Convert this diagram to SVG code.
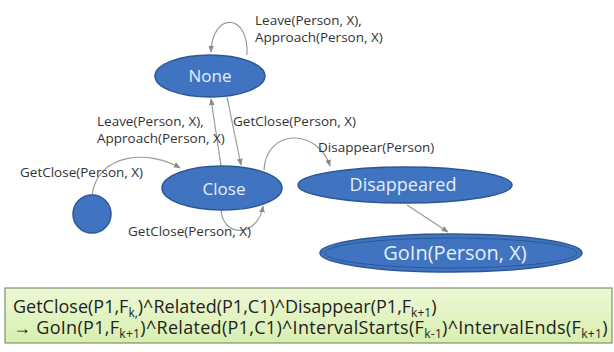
<svg xmlns="http://www.w3.org/2000/svg" width="614" height="352" viewBox="0 0 614 352">
<defs>
<marker id="ah" viewBox="0 0 10 10" refX="9" refY="5" markerWidth="7" markerHeight="7" orient="auto-start-reverse" markerUnits="userSpaceOnUse">
<path d="M0,1 L10,5 L0,9 z" fill="#8a8a8a"/>
</marker>
<linearGradient id="gbox" x1="0" y1="0" x2="0" y2="1">
<stop offset="0" stop-color="#eef8d6"/>
<stop offset="1" stop-color="#d7efae"/>
</linearGradient>
<style>
.node{fill:#4174c0;stroke:#2b5797;stroke-width:1.5}
.nt{font-family:"Open Sans","Liberation Sans",sans-serif;fill:#e4eef9;text-anchor:middle}
.lbl{font-family:"Open Sans","Liberation Sans",sans-serif;font-size:13.5px;fill:#333}
.edge{fill:none;stroke:#9a9a9a;stroke-width:1.2;marker-end:url(#ah)}
.bt{font-family:"Open Sans","Liberation Sans",sans-serif;font-size:18px;fill:#222}
</style>
</defs>
<rect width="614" height="352" fill="#ffffff"/>
<g id="connectors">
<path class="edge" d="M247,55 C249,12 212,12 211,52"/>
<path class="edge" d="M221,166 L211,99"/>
<path class="edge" d="M227,97 L241,165"/>
<path class="edge" d="M92,195 C98,152 150,150 180,168"/>
<path class="edge" d="M221,209 C222,238 258,238 263,206"/>
<path class="edge" d="M264,170 C266,128 318,128 330,166"/>
<path class="edge" d="M407,205 L448,232"/>
</g>
<g id="labels">
<text class="lbl" x="255" y="25">Leave(Person, X),</text>
<text class="lbl" x="255" y="42">Approach(Person, X)</text>
<text class="lbl" x="97" y="126">Leave(Person, X),</text>
<text class="lbl" x="97" y="143">Approach(Person, X)</text>
<text class="lbl" x="233" y="126">GetClose(Person, X)</text>
<text class="lbl" x="20" y="177">GetClose(Person, X)</text>
<text class="lbl" x="128" y="236">GetClose(Person, X)</text>
<text class="lbl" x="318" y="152">Disappear(Person)</text>
</g>
<g id="none">
<ellipse class="node" cx="210" cy="76" rx="55" ry="21"/>
<text class="nt" x="210" y="82" font-size="17">None</text>
</g>
<g id="close">
<ellipse class="node" cx="222" cy="188" rx="60" ry="22"/>
<text class="nt" x="224" y="195" font-size="17">Close</text>
</g>
<g id="start">
<circle class="node" cx="92" cy="214" r="19"/>
</g>
<g id="disappeared">
<ellipse class="node" cx="405" cy="185" rx="107" ry="18"/>
<text class="nt" x="403" y="191" font-size="18">Disappeared</text>
</g>
<g id="goin">
<ellipse class="node" cx="451" cy="253" rx="131" ry="19"/>
<ellipse cx="451" cy="253" rx="126" ry="15" fill="none" stroke="#2b5797" stroke-width="1"/>
<text class="nt" x="455" y="260" font-size="20">GoIn(Person, X)</text>
</g>
<g id="rule">
<rect x="5" y="288" width="607" height="55" fill="url(#gbox)" stroke="#7f8f70" stroke-width="1.2"/>
<text class="bt" x="13" y="313">GetClose(P1,F<tspan font-size="12" dy="4">k,</tspan><tspan dy="-4">)^Related(P1,C1)^Disappear(P1,F</tspan><tspan font-size="12" dy="4">k+1</tspan><tspan dy="-4">)</tspan></text>
<text class="bt" x="13" y="334" letter-spacing="0.3">→ GoIn(P1,F<tspan font-size="12" dy="4">k+1</tspan><tspan dy="-4">)^Related(P1,C1)^IntervalStarts(F</tspan><tspan font-size="12" dy="4">k-1</tspan><tspan dy="-4">)^IntervalEnds(F</tspan><tspan font-size="12" dy="4">k+1</tspan><tspan dy="-4">)</tspan></text>
</g>
</svg>
